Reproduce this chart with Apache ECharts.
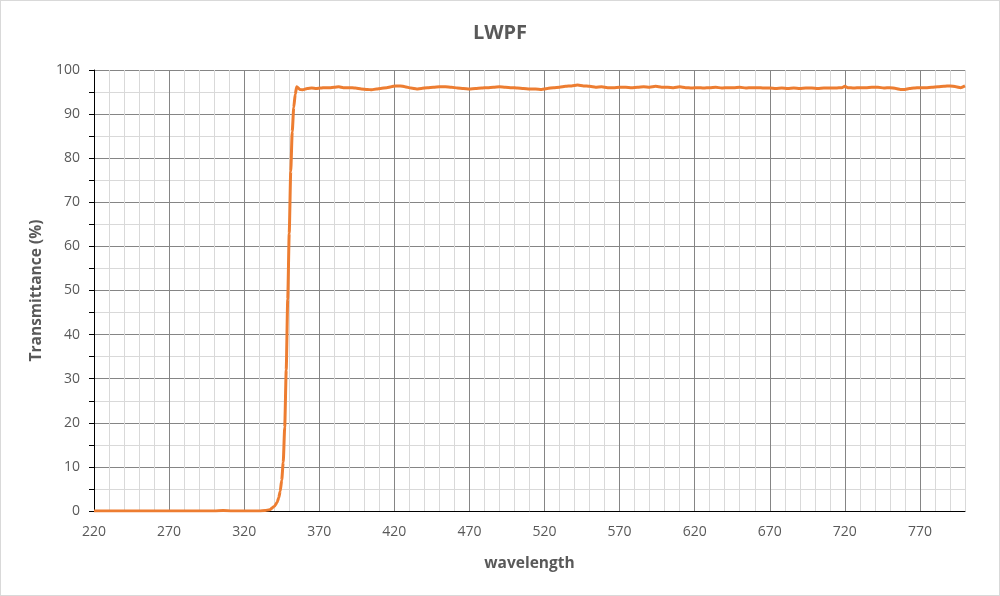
<!DOCTYPE html>
<html>
<head>
<meta charset="utf-8">
<script src="https://cdn.jsdelivr.net/npm/echarts@6/dist/echarts.min.js"></script>
<style>
html,body{margin:0;padding:0;background:#fff;}
#wrap{position:relative;width:1000px;height:596px;}
#c{width:1000px;height:596px;}
#frame{position:absolute;left:0;top:0;width:1000px;height:596px;box-sizing:border-box;border:1px solid #d9d9d9;pointer-events:none;}
</style>
</head>
<body>
<div id="wrap"><div id="c"></div><div id="frame"></div></div>
<script>
const chartTitle = 'LWPF';
const xName = 'wavelength';
const yName = 'Transmittance (%)';

const wavelengths = [
  220,230,240,250,260,270,280,290,300,306,312,320,330,334,337,340,342,343,344,345,346,347,348,349,350,351,352,353,354,355,
  357,359,362,365,368,371,374,377,380,383,386,390,394,398,402,405,408,411,415,418,421,424,427,431,435,438,442,446,450,454,
  458,462,466,470,474,478,482,486,490,494,498,502,506,510,514,518,522,526,530,534,538,542,546,550,554,558,562,566,570,574,
  578,582,586,590,594,598,602,606,610,614,618,622,626,630,634,638,642,646,650,654,658,662,666,670,674,678,682,686,690,694,
  698,702,706,710,714,718,720,722,726,730,734,738,742,746,750,754,757,760,763,766,770,774,778,782,786,790,794,797,800
];
const transmittance = [
  0,0,0,0,0,0,0,0,0,0.1,0,0,0,0.1,0.3,1.0,2.0,3.0,4.5,7,11,19,32,48,63,77,86,91.5,94.5,96.2,
  95.6,95.5,95.8,95.9,95.8,95.9,96.0,96.0,96.1,96.2,96.0,96.0,95.9,95.7,95.6,95.5,95.7,95.8,96.0,96.2,96.4,96.4,96.2,95.9,95.7,95.8,96.0,96.1,96.2,96.2,
  96.1,95.9,95.8,95.7,95.8,95.9,96.0,96.1,96.2,96.1,96.0,95.9,95.8,95.7,95.7,95.6,95.8,96.0,96.1,96.3,96.4,96.6,96.4,96.3,96.1,96.2,96.0,96.0,96.1,96.1,
  96.0,96.1,96.2,96.1,96.3,96.1,96.1,96.0,96.2,96.0,95.9,96.0,95.9,96.0,96.1,95.9,96.0,96.0,96.1,95.9,96.0,96.0,95.9,95.9,95.8,95.9,95.8,95.9,95.8,95.9,
  95.9,95.8,95.9,95.9,95.9,96.0,96.3,96.0,95.9,96.0,96.0,96.1,96.1,95.9,96.0,95.8,95.6,95.6,95.8,95.9,96.0,96.0,96.1,96.2,96.3,96.4,96.2,96.0,96.4
];

const xMin = 220, xMax = 800, xStep = 10, xLabelStep = 50;
const yMin = 0, yMax = 100, yStep = 5, yLabelStep = 10;

const seriesData = wavelengths.map((w, i) => [w, transmittance[i]]);
const font = '"Open Sans", sans-serif';
const major = '#858585', minor = '#d9d9d9';

const chart = echarts.init(document.getElementById('c'));
chart.setOption({
  animation: false,
  title: {
    text: chartTitle, left: 'center', top: 18,
    textStyle: {fontFamily: font, fontSize: 20, fontWeight: 'bold', color: '#595959'}
  },
  grid: {left: 94, right: 35, top: 70, bottom: 85},
  xAxis: {
    type: 'value', min: xMin, max: xMax, interval: xStep,
    name: xName, nameLocation: 'middle', nameGap: 45,
    nameTextStyle: {fontFamily: font, fontSize: 15.5, fontWeight: 'bold', color: '#595959'},
    axisLine: {show: true, onZero: false, lineStyle: {color: '#000', width: 1}},
    axisTick: {show: false},
    axisLabel: {
      fontFamily: font, fontSize: 14, color: '#595959', margin: 14,
      showMaxLabel: false,
      formatter: v => ((v - xMin) % xLabelStep === 0 ? String(v) : '')
    },
    splitLine: {show: true, lineStyle: {color: [major, minor, minor, minor, minor], width: 1}}
  },
  yAxis: {
    type: 'value', min: yMin, max: yMax, interval: yStep,
    name: yName, nameLocation: 'middle', nameGap: 49,
    nameTextStyle: {fontFamily: font, fontSize: 15.5, fontWeight: 'bold', color: '#595959'},
    axisLine: {show: true, lineStyle: {color: '#000', width: 1}},
    axisTick: {show: true, length: 5, lineStyle: {color: '#000'}},
    axisLabel: {
      fontFamily: font, fontSize: 14, color: '#595959', margin: 14,
      formatter: v => (v % yLabelStep === 0 ? String(v) : '')
    },
    splitLine: {show: true, lineStyle: {color: [major, minor], width: 1}}
  },
  series: [{
    type: 'line', data: seriesData, showSymbol: false, symbol: 'none',
    smooth: 0.2, smoothMonotone: 'x',
    lineStyle: {color: '#ED7D31', width: 3},
    itemStyle: {color: '#ED7D31'}
  }]
});
</script>
</body>
</html>
